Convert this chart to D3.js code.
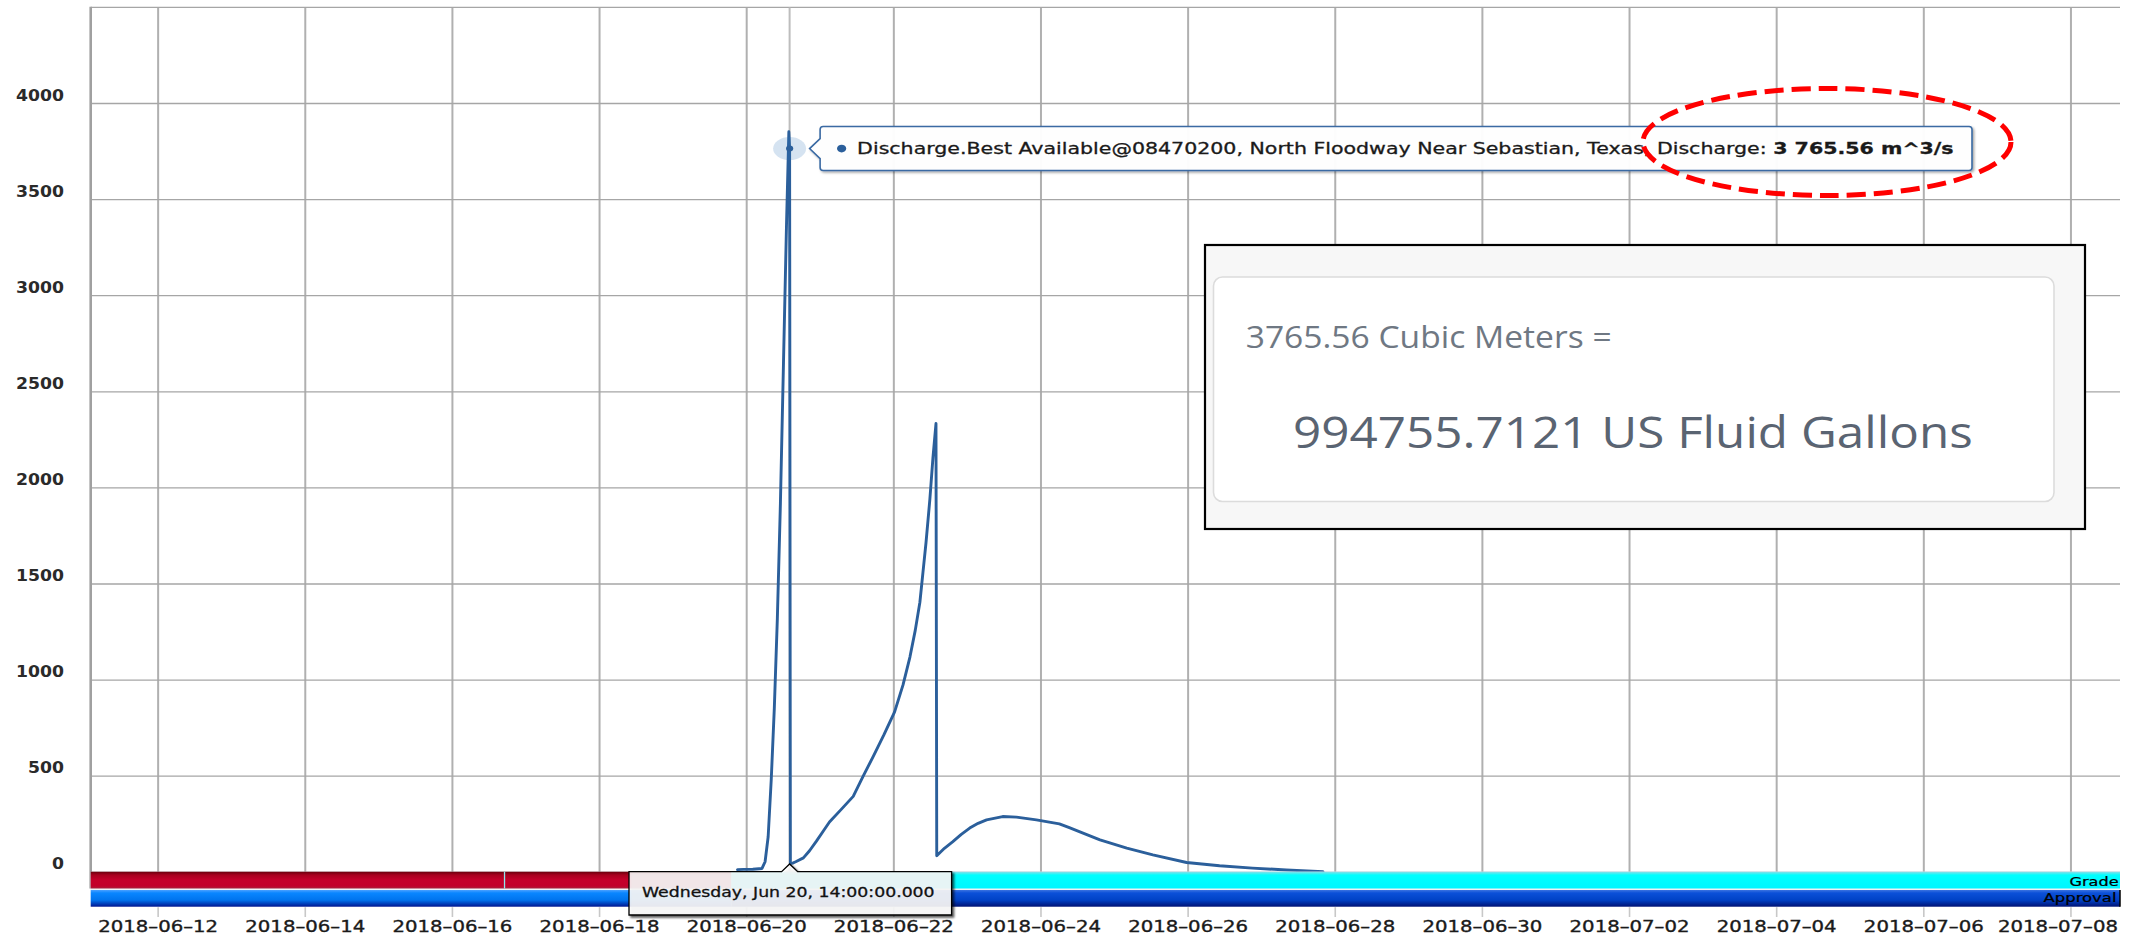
<!DOCTYPE html>
<html>
<head>
<meta charset="utf-8">
<script src="https://cdn.jsdelivr.net/npm/d3@7"></script>
<style>
  html, body { margin: 0; padding: 0; background: #ffffff; }
  svg { display: block; }
</style>
</head>
<body>
<svg id="chart" width="2131" height="935"></svg>
<script>
// ---- Discharge.Best Available @ 08470200, North Floodway Near Sebastian, Texas (UTC) ----
const obsTimes = [
  "2018-06-19T21:00", "2018-06-19T23:00", "2018-06-20T02:00", "2018-06-20T05:00",
  "2018-06-20T06:00", "2018-06-20T07:00", "2018-06-20T08:00", "2018-06-20T09:00",
  "2018-06-20T10:00", "2018-06-20T11:00", "2018-06-20T12:00", "2018-06-20T13:00",
  "2018-06-20T13:45", "2018-06-20T14:00", "2018-06-20T14:15", "2018-06-20T15:00",
  "2018-06-20T16:00", "2018-06-20T18:30", "2018-06-20T20:30", "2018-06-20T22:45",
  "2018-06-21T01:00", "2018-06-21T03:00", "2018-06-21T07:00", "2018-06-21T10:45",
  "2018-06-21T14:00", "2018-06-21T17:15", "2018-06-21T20:45", "2018-06-22T00:15",
  "2018-06-22T03:00", "2018-06-22T05:15", "2018-06-22T07:00", "2018-06-22T08:30",
  "2018-06-22T09:30", "2018-06-22T10:30", "2018-06-22T11:45", "2018-06-22T12:45",
  "2018-06-22T13:45", "2018-06-22T14:00", "2018-06-22T16:30", "2018-06-22T19:15",
  "2018-06-22T22:00", "2018-06-23T00:45", "2018-06-23T03:30", "2018-06-23T06:15",
  "2018-06-23T11:30", "2018-06-23T16:00", "2018-06-23T22:30", "2018-06-24T06:00",
  "2018-06-24T09:15", "2018-06-24T12:30", "2018-06-24T19:15", "2018-06-25T04:00",
  "2018-06-25T12:30", "2018-06-25T23:30", "2018-06-26T10:15", "2018-06-26T21:00",
  "2018-06-27T08:00", "2018-06-27T20:00"
];
const discharge = [
  14, 15, 16, 20,
  55, 185, 480, 850,
  1320, 1920, 2650, 3380,
  3853, 3765.56, 45, 48,
  55, 75, 112, 162,
  215, 262, 330, 395,
  500, 602, 715, 835,
  975, 1120, 1260, 1405,
  1560, 1716, 1940, 2155,
  2335, 86, 125, 160,
  197, 230, 255, 273,
  290, 287, 273, 252,
  232, 212, 169, 126,
  91, 51, 34, 22,
  12, 3
];

// hovered reading and its unit conversion
const hoverTime = "2018-06-20T14:00";
const hoverValue = 3765.56;
const gallonsValue = "994755.7121";
const seriesName = "Discharge.Best Available@08470200, North Floodway Near Sebastian, Texas";

// axes
const xDomain = ["2018-06-11T02:00", "2018-07-08T16:00"];
const yDomain = [0, 4500];
const xTickDates = [
  "2018-06-12", "2018-06-14", "2018-06-16", "2018-06-18", "2018-06-20",
  "2018-06-22", "2018-06-24", "2018-06-26", "2018-06-28", "2018-06-30",
  "2018-07-02", "2018-07-04", "2018-07-06", "2018-07-08"
];
const yTickValues = [0, 500, 1000, 1500, 2000, 2500, 3000, 3500, 4000];

// grade and approval periods
const gradeStarts = ["2018-06-11T02:00", "2018-06-16T17:00", "2018-06-19T19:00"];
const gradeEnds   = ["2018-06-16T17:00", "2018-06-19T19:00", "2018-07-08T16:00"];
const gradeCodes  = ["unspecified", "unspecified", "good"];
const approvalStarts = ["2018-06-11T02:00", "2018-06-19T19:00"];
const approvalEnds   = ["2018-06-19T19:00", "2018-07-08T16:00"];
const approvalCodes  = ["working", "reviewed"];

// ---- layout ----
const plot = { left: 90.7, right: 2120, top: 7.4, bottom: 872.3 };
const gradeBand = { top: 871.7, bottom: 888.5 };
const approvalBand = { top: 890, bottom: 906.7 };
const axisFont = "'DejaVu Sans', Verdana, sans-serif";

const parseT = d3.utcParse("%Y-%m-%dT%H:%M");
const parseD = d3.utcParse("%Y-%m-%d");

const x = d3.scaleUtc().domain(xDomain.map(parseT)).range([plot.left, plot.right]);
const y = d3.scaleLinear().domain(yDomain).range([plot.bottom, plot.top]);

const svg = d3.select("#chart");
const defs = svg.append("defs");

function vGradient(id, stops) {
  const g = defs.append("linearGradient").attr("id", id)
    .attr("x1", 0).attr("y1", 0).attr("x2", 0).attr("y2", 1);
  stops.forEach(([o, c]) => g.append("stop").attr("offset", o).attr("stop-color", c));
}
vGradient("g-unspecified", [[0, "#6a000c"], [0.2, "#a8001e"], [0.5, "#c4002a"], [0.85, "#c2002a"], [1, "#a8203a"]]);
vGradient("g-good", [[0, "#90dce8"], [0.2, "#00ffff"], [1, "#00f6ff"]]);
vGradient("g-working", [[0, "#4aa0ff"], [0.18, "#0a86ff"], [0.6, "#0074ee"], [1, "#001590"]]);
vGradient("g-reviewed", [[0, "#3a72e0"], [0.18, "#0b50d8"], [0.6, "#0042c6"], [1, "#001274"]]);

const shadow = defs.append("filter").attr("id", "shadow")
  .attr("x", "-5%").attr("y", "-20%").attr("width", "110%").attr("height", "160%");
shadow.append("feDropShadow").attr("dx", 1.5).attr("dy", 1.5)
  .attr("stdDeviation", 1).attr("flood-color", "#000").attr("flood-opacity", 0.35);
const shadowDark = defs.append("filter").attr("id", "shadowDark")
  .attr("x", "-5%").attr("y", "-20%").attr("width", "110%").attr("height", "160%");
shadowDark.append("feDropShadow").attr("dx", 2).attr("dy", 2)
  .attr("stdDeviation", 0.8).attr("flood-color", "#000").attr("flood-opacity", 0.7);

defs.append("clipPath").attr("id", "plotClip").append("rect")
  .attr("x", plot.left).attr("y", plot.top)
  .attr("width", plot.right - plot.left).attr("height", plot.bottom - plot.top);

// stretch a text node horizontally to a given width
function fitWidth(sel, tx, ty, width) {
  sel.each(function () {
    const len = this.getComputedTextLength();
    const k = len > 0 ? width / len : 1;
    d3.select(this).attr("transform", `translate(${tx},${ty}) scale(${k},1)`);
  });
}
// horizontal stretch that makes a sample string reach a width
function stretchFor(sample, font, size, weight, width) {
  const t = svg.append("text").text(sample).attr("font-family", font)
    .attr("font-size", size).attr("font-weight", weight);
  const k = width / t.node().getComputedTextLength();
  t.remove();
  return k;
}

// ---- grid ----
const grid = svg.append("g");
grid.selectAll("line.v").data(xTickDates).join("line")
  .attr("x1", d => x(parseD(d))).attr("x2", d => x(parseD(d)))
  .attr("y1", plot.top).attr("y2", plot.bottom)
  .attr("stroke", "#b0b0b0").attr("stroke-width", 2);
grid.selectAll("line.h").data(yTickValues.concat([yDomain[1]])).join("line")
  .attr("x1", plot.left).attr("x2", plot.right)
  .attr("y1", d => y(d)).attr("y2", d => y(d))
  .attr("stroke", "#a6a6a6").attr("stroke-width", 1.3);
grid.append("line")
  .attr("x1", plot.left).attr("x2", plot.left)
  .attr("y1", plot.top - 0.6).attr("y2", gradeBand.bottom)
  .attr("stroke", "#a0a0a0").attr("stroke-width", 2.6);

// hover crosshair
const hx = x(parseT(hoverTime));
const hy = y(hoverValue);
svg.append("line")
  .attr("x1", hx).attr("x2", hx).attr("y1", plot.top).attr("y2", plot.bottom)
  .attr("stroke", "#bdbdbd").attr("stroke-width", 2);

// ---- series ----
const series = obsTimes.map((t, i) => ({ t: parseT(t), v: discharge[i] }));
const line = d3.line().x(d => x(d.t)).y(d => y(d.v));
svg.append("g").attr("clip-path", "url(#plotClip)")
  .append("path").datum(series)
  .attr("d", line)
  .attr("fill", "none")
  .attr("stroke", "#2b5f9b")
  .attr("stroke-width", 2.9)
  .attr("stroke-linejoin", "round")
  .attr("stroke-linecap", "round");

// hovered point with halo
svg.append("ellipse").attr("cx", hx).attr("cy", hy).attr("rx", 16.5).attr("ry", 11.5)
  .attr("fill", "#2f72b8").attr("fill-opacity", 0.2);
svg.append("ellipse").attr("cx", hx).attr("cy", hy).attr("rx", 3.6).attr("ry", 3)
  .attr("fill", "#2b5f9b");

// ---- grade / approval bands ----
const bands = svg.append("g");
bands.append("rect").attr("x", plot.left).attr("y", gradeBand.top)
  .attr("width", plot.right - plot.left).attr("height", approvalBand.bottom - gradeBand.top)
  .attr("fill", "#eef2f6");
bands.selectAll("rect.grade").data(gradeCodes).join("rect")
  .attr("x", (d, i) => x(parseT(gradeStarts[i])))
  .attr("width", (d, i) => x(parseT(gradeEnds[i])) - x(parseT(gradeStarts[i])))
  .attr("y", gradeBand.top).attr("height", gradeBand.bottom - gradeBand.top)
  .attr("fill", d => `url(#g-${d})`);
bands.selectAll("line.sep").data(gradeStarts.slice(1, 2)).join("line")
  .attr("x1", d => x(parseT(d))).attr("x2", d => x(parseT(d)))
  .attr("y1", gradeBand.top).attr("y2", gradeBand.bottom)
  .attr("stroke", "#8fe6ee").attr("stroke-width", 1.3);
bands.selectAll("rect.appr").data(approvalCodes).join("rect")
  .attr("x", (d, i) => x(parseT(approvalStarts[i])))
  .attr("width", (d, i) => x(parseT(approvalEnds[i])) - x(parseT(approvalStarts[i])))
  .attr("y", approvalBand.top).attr("height", approvalBand.bottom - approvalBand.top)
  .attr("fill", d => `url(#g-${d})`);
bands.append("line").attr("x1", plot.right).attr("x2", plot.right)
  .attr("y1", approvalBand.top).attr("y2", approvalBand.bottom)
  .attr("stroke", "#000").attr("stroke-width", 1.5);

const gradeLabel = bands.append("text").text("Grade")
  .attr("font-family", axisFont).attr("font-size", 12.5).attr("fill", "#000")
  .attr("stroke", "#000").attr("stroke-width", 0.25)
  .attr("text-anchor", "end");
fitWidth(gradeLabel, 2118.5, 885.7, 49);
const apprLabel = bands.append("text").text("Approval")
  .attr("font-family", axisFont).attr("font-size", 12.5).attr("fill", "#000")
  .attr("stroke", "#000").attr("stroke-width", 0.25)
  .attr("text-anchor", "end");
fitWidth(apprLabel, 2116.5, 902.3, 73);

// ---- axes ----
const xAxisG = svg.append("g");
xAxisG.selectAll("line").data(xTickDates).join("line")
  .attr("x1", d => x(parseD(d))).attr("x2", d => x(parseD(d)))
  .attr("y1", approvalBand.bottom + 0.5).attr("y2", 917)
  .attr("stroke", "#c8c8c8").attr("stroke-width", 1.6);
const xLabelScale = stretchFor("2018\u201306\u201312", axisFont, 15.5, "normal", 120);
xAxisG.selectAll("text").data(xTickDates).join("text")
  .text(d => d.replace(/-/g, "\u2013"))
  .attr("font-family", axisFont)
  .attr("font-size", 15.5).attr("fill", "#1a1a1a")
  .attr("stroke", "#1a1a1a").attr("stroke-width", 0.35)
  .attr("text-anchor", "middle")
  .each(function (d) {
    const w = this.getComputedTextLength() * xLabelScale;
    let cx = x(parseD(d));
    if (cx + w / 2 > plot.right - 2) cx = plot.right - 2 - w / 2;
    d3.select(this).attr("transform", `translate(${cx},931.5) scale(${xLabelScale},1)`);
  });

const yLabelScale = stretchFor("4000", axisFont, 15, "bold", 48);
const yAxisG = svg.append("g");
yAxisG.selectAll("text").data(yTickValues).join("text")
  .text(d => d)
  .attr("font-family", axisFont)
  .attr("font-size", 15).attr("font-weight", "bold").attr("fill", "#2a2a2a")
  .attr("text-anchor", "end")
  .attr("transform", d => `translate(64,${y(d) - 3}) scale(${yLabelScale},1)`);

// ---- x crosshair label ----
const fmtDate = d3.utcFormat("%A, %b %e, %H:%M:%S.%L");
const bt = { left: 629, right: 951.6, top: 871.7, bottom: 915 };
svg.append("path")
  .attr("d", `M${bt.left},${bt.top} H${hx - 8} L${hx},864 L${hx + 8},${bt.top} H${bt.right} V${bt.bottom} H${bt.left} Z`)
  .attr("fill", "#ffffff").attr("fill-opacity", 0.85)
  .attr("stroke", "#000").attr("stroke-width", 1.3)
  .attr("filter", "url(#shadowDark)");
const dateText = svg.append("text").text(fmtDate(parseT(hoverTime)))
  .attr("font-family", axisFont)
  .attr("font-size", 14).attr("fill", "#111")
  .attr("stroke", "#111").attr("stroke-width", 0.3);
fitWidth(dateText, 642, 897, 293);

// ---- point tooltip ----
const fmtValue = d3.formatLocale({ decimal: ".", thousands: " ", grouping: [3], currency: ["", ""] }).format(",.2f");
const tt = { left: hx + 30.5, right: 1972, top: 126.5, bottom: 170.5, r: 3 };
svg.append("path")
  .attr("d", `M${tt.left + tt.r},${tt.top} H${tt.right - tt.r} Q${tt.right},${tt.top} ${tt.right},${tt.top + tt.r}
    V${tt.bottom - tt.r} Q${tt.right},${tt.bottom} ${tt.right - tt.r},${tt.bottom}
    H${tt.left + tt.r} Q${tt.left},${tt.bottom} ${tt.left},${tt.bottom - tt.r}
    V${hy + 10} L${hx + 20},${hy} L${tt.left},${hy - 10}
    V${tt.top + tt.r} Q${tt.left},${tt.top} ${tt.left + tt.r},${tt.top} Z`)
  .attr("fill", "#ffffff").attr("fill-opacity", 0.96)
  .attr("stroke", "#3a6aa3").attr("stroke-width", 1.6)
  .attr("filter", "url(#shadow)");
svg.append("ellipse").attr("cx", tt.left + 21.5).attr("cy", hy).attr("rx", 4.6).attr("ry", 3.9)
  .attr("fill", "#2b5f9b");
const tipText = svg.append("text")
  .attr("font-family", axisFont)
  .attr("font-size", 15.5).attr("fill", "#1a1a1a")
  .attr("stroke", "#1a1a1a").attr("stroke-width", 0.3);
tipText.append("tspan").text(`${seriesName}, Discharge: `);
tipText.append("tspan").attr("font-weight", "bold").text(`${fmtValue(hoverValue)} m^3/s`);
fitWidth(tipText, tt.left + 37, 154, 1097);

// ---- unit conversion card ----
const card = svg.append("g");
card.append("rect").attr("x", 1205).attr("y", 245).attr("width", 880).attr("height", 284)
  .attr("fill", "#f7f7f7").attr("stroke", "#000").attr("stroke-width", 2.2);
card.append("rect").attr("x", 1213.5).attr("y", 277).attr("width", 840.5).attr("height", 224.5)
  .attr("rx", 9).attr("fill", "#ffffff").attr("stroke", "#dcdcdc").attr("stroke-width", 1.6);
const cardFont = "'Open Sans', 'Noto Sans', sans-serif";
const c1 = card.append("text").text(`${hoverValue} Cubic Meters =`)
  .attr("font-family", cardFont).attr("font-size", 31).attr("fill", "#6f7883");
fitWidth(c1, 1245.7, 348.3, 366);
const c2 = card.append("text").text(`${gallonsValue} US Fluid Gallons`)
  .attr("font-family", cardFont).attr("font-size", 44).attr("fill", "#5a6472");
fitWidth(c2, 1293, 448.3, 680);

// ---- highlight ring around the value ----
svg.append("ellipse").attr("cx", 1827).attr("cy", 142).attr("rx", 184).attr("ry", 53.5)
  .attr("fill", "none").attr("stroke", "#ff0000").attr("stroke-width", 5)
  .attr("stroke-dasharray", "19 8");
</script>
</body>
</html>
